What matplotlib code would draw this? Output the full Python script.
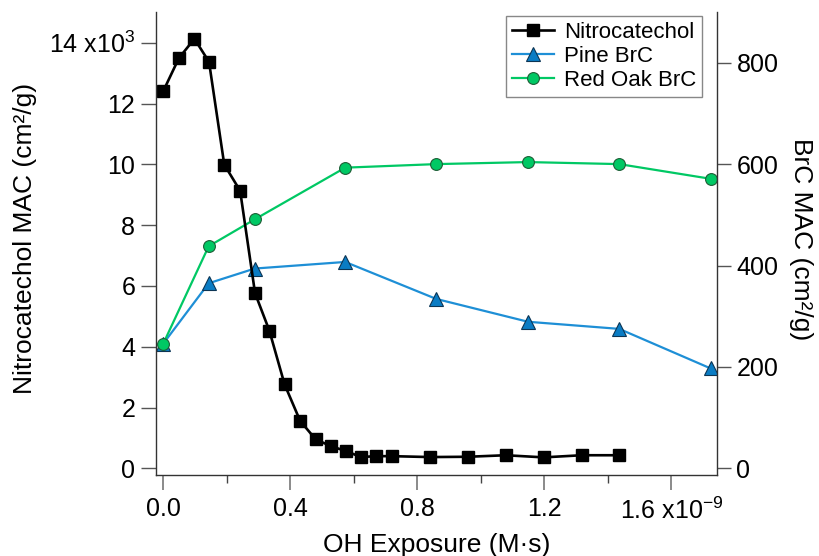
import numpy as np
import matplotlib
matplotlib.use("Agg")
import matplotlib.pyplot as plt
from matplotlib.ticker import MultipleLocator

plt.rcParams['font.family'] = ['Liberation Sans', 'DejaVu Sans']
plt.rcParams['mathtext.fontset'] = 'custom'
plt.rcParams['mathtext.rm'] = 'Liberation Sans'
plt.rcParams['mathtext.it'] = 'Liberation Sans:italic'

# OH exposure in units of 1e-9 M*s
nitro_x = [0.0, 0.049, 0.098, 0.144, 0.192, 0.242, 0.289, 0.334, 0.382, 0.431, 0.48,
           0.528, 0.574, 0.623, 0.67, 0.719, 0.84, 0.96, 1.079, 1.198, 1.318, 1.436]
# Nitrocatechol MAC in units of 1e3 cm2/g
nitro_y = [12.41, 13.49, 14.13, 13.37, 9.99, 9.13, 5.76, 4.53, 2.76, 1.56, 0.95,
           0.73, 0.57, 0.37, 0.40, 0.40, 0.37, 0.38, 0.43, 0.36, 0.43, 0.43]

brc_x = [0.0, 0.143, 0.288, 0.573, 0.860, 1.149, 1.436, 1.724]
pine_y = [246, 365, 394, 407, 334, 289, 275, 197]
oak_y = [246, 438, 491, 593, 600, 604, 600, 571]

xticks = [0.0, 0.4, 0.8, 1.2, 1.6]
xlabels = ['0.0', '0.4', '0.8', '1.2', '1.6 x10$^{-9}$']
lticks = [0, 2, 4, 6, 8, 10, 12, 14]
llabels = ['0', '2', '4', '6', '8', '10', '12', '14 x10$^{3}$']
rticks = [0, 200, 400, 600, 800]

fig = plt.figure(figsize=(8.2, 5.56), dpi=100)
ax = fig.add_axes([156 / 820, 1 - 475 / 556, (717 - 156) / 820, (475 - 12) / 556])
ax2 = ax.twinx()
ax.set_zorder(ax2.get_zorder() + 1)
ax.patch.set_visible(False)

ax2.plot(brc_x, pine_y, color='#1e8fd6', lw=1.6, marker='^', ms=9.5,
         mfc='#0a7cc4', mec='#0c3554', mew=0.8, label='Pine BrC')
ax2.plot(brc_x, oak_y, color='#00c864', lw=1.6, marker='o', ms=8.5,
         mfc='#00c864', mec='#1d5e36', mew=0.8, label='Red Oak BrC')
ax.plot(nitro_x, nitro_y, color='black', lw=1.9, marker='s', ms=8.5,
        mfc='black', mec='black', label='Nitrocatechol')

ax.set_xlim(-0.023, 1.744)
ax.set_ylim(-0.22, 15.01)
ax2.set_ylim(-13.2, 900)

ax.set_xticks(xticks)
ax.set_xticklabels(xlabels)
ax.xaxis.set_minor_locator(MultipleLocator(0.2))
ax.set_yticks(lticks)
ax.set_yticklabels(llabels)
ax2.set_yticks(rticks)

for a in (ax, ax2):
    for s in a.spines.values():
        s.set_color('#333333')
        s.set_linewidth(1.0)
    a.spines['top'].set_visible(False)
ax.spines['right'].set_visible(False)
ax2.spines['left'].set_visible(False)
ax2.spines['bottom'].set_visible(False)

ax.tick_params(axis='x', which='major', length=11, width=1.2, color='#777777',
               labelsize=18, pad=5)
ax.tick_params(axis='x', which='minor', length=6, width=1.0, color='#444444')
ax.tick_params(axis='y', which='major', length=11, width=1.0, color='#555555',
               labelsize=18, pad=4)
ax2.tick_params(axis='y', which='major', length=10, width=1.0, color='#555555',
                labelsize=18, pad=4)

ax.set_xlabel('OH Exposure (M·s)', fontsize=19, va='center')
ax.xaxis.set_label_coords(0.5, -0.151)
ax.set_ylabel('Nitrocatechol MAC (cm²/g)', fontsize=19, va='center')
ax.yaxis.set_label_coords(-0.2335, 0.51)
ax2.set_ylabel('BrC MAC (cm²/g)', fontsize=19, rotation=270, va='center')
ax2.yaxis.set_label_coords(1.15, 0.51)

h1, l1 = ax.get_legend_handles_labels()
h2, l2 = ax2.get_legend_handles_labels()
leg = ax.legend(h1 + h2, l1 + l2, loc='upper right',
                bbox_to_anchor=(702 / 820, 1 - 16 / 556), bbox_transform=fig.transFigure,
                fontsize=16, frameon=True, fancybox=False, edgecolor='#888888',
                framealpha=1, handlelength=1.9, handletextpad=0.45,
                labelspacing=0.15, borderpad=0.25, borderaxespad=0)
leg.get_frame().set_linewidth(1.0)

fig.savefig('out.png', dpi=100)
